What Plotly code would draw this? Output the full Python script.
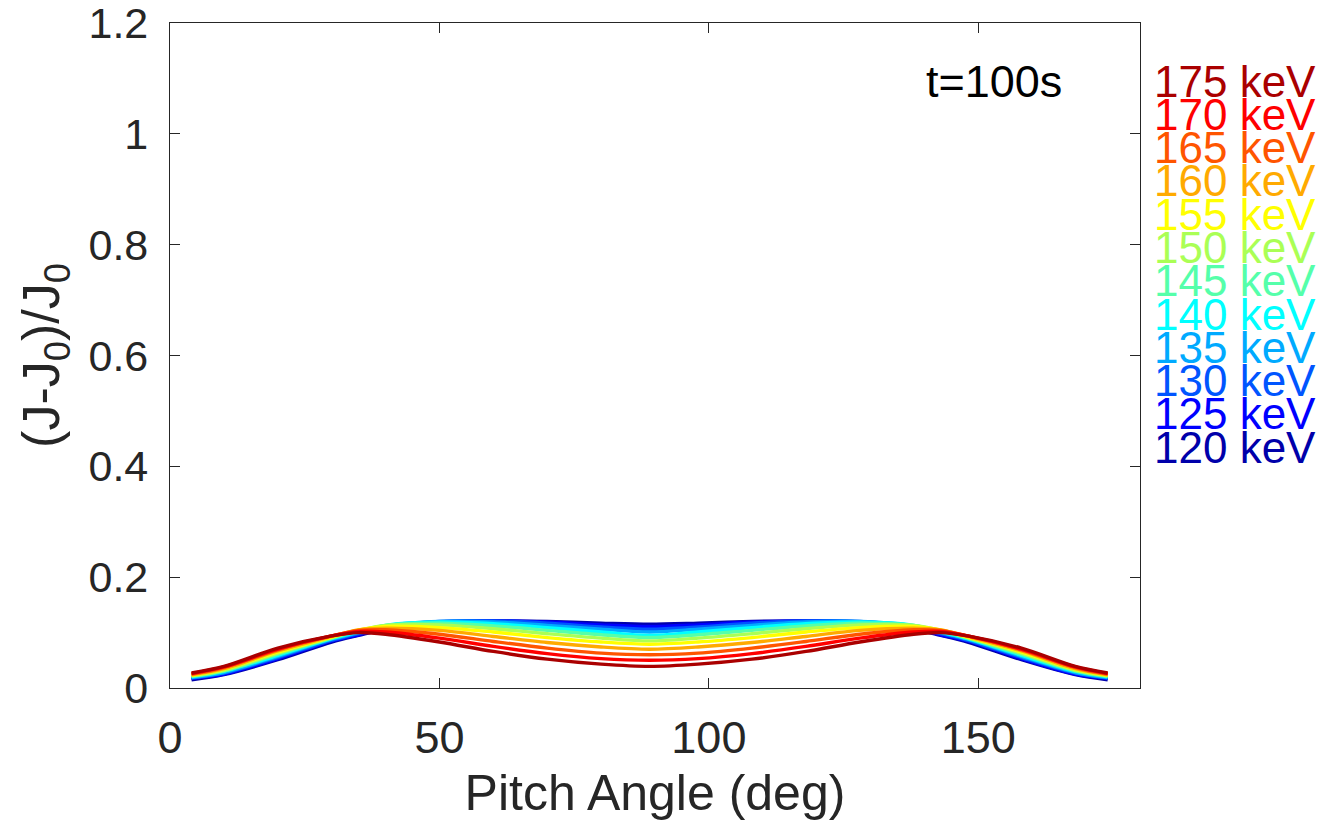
import plotly.graph_objects as go

# Pitch angle sample points (deg)
pitch = [4, 10, 20, 30, 35, 40, 50, 60, 70, 80, 89, 98, 108, 118, 128, 138, 143, 148, 158, 168, 174]

energies = ["120 keV", "125 keV", "130 keV", "135 keV", "140 keV", "145 keV",
            "150 keV", "155 keV", "160 keV", "165 keV", "170 keV", "175 keV"]

colors = ["#0000AA", "#0000FF", "#0055FF", "#00AAFF", "#00FFFF", "#55FFAA",
          "#AAFF55", "#FFFF00", "#FFAA00", "#FF5500", "#FF0000", "#AA0000"]

e120 = [0.015, 0.024, 0.051, 0.083, 0.095, 0.106, 0.118, 0.121, 0.120, 0.117, 0.115, 0.117, 0.120, 0.121, 0.118, 0.106, 0.095, 0.083, 0.051, 0.024, 0.015]
e125 = [0.017, 0.025, 0.053, 0.085, 0.096, 0.108, 0.119, 0.121, 0.119, 0.114, 0.111, 0.114, 0.119, 0.121, 0.119, 0.108, 0.096, 0.085, 0.053, 0.025, 0.017]
e130 = [0.018, 0.027, 0.055, 0.086, 0.098, 0.110, 0.120, 0.121, 0.117, 0.110, 0.106, 0.110, 0.117, 0.121, 0.120, 0.110, 0.098, 0.086, 0.055, 0.027, 0.018]
e135 = [0.019, 0.028, 0.057, 0.088, 0.100, 0.112, 0.120, 0.119, 0.113, 0.106, 0.101, 0.106, 0.113, 0.119, 0.120, 0.112, 0.100, 0.088, 0.057, 0.028, 0.019]
e140 = [0.020, 0.030, 0.059, 0.089, 0.101, 0.113, 0.119, 0.116, 0.109, 0.101, 0.095, 0.101, 0.109, 0.116, 0.119, 0.113, 0.101, 0.089, 0.059, 0.030, 0.020]
e145 = [0.021, 0.031, 0.061, 0.090, 0.103, 0.113, 0.117, 0.112, 0.104, 0.096, 0.091, 0.096, 0.104, 0.112, 0.117, 0.113, 0.103, 0.090, 0.061, 0.031, 0.021]
e150 = [0.022, 0.032, 0.063, 0.091, 0.104, 0.113, 0.114, 0.107, 0.098, 0.090, 0.085, 0.090, 0.098, 0.107, 0.114, 0.113, 0.104, 0.091, 0.063, 0.032, 0.022]
e155 = [0.023, 0.034, 0.065, 0.092, 0.105, 0.111, 0.109, 0.101, 0.091, 0.083, 0.079, 0.083, 0.091, 0.101, 0.109, 0.111, 0.105, 0.092, 0.065, 0.034, 0.023]
e160 = [0.024, 0.035, 0.067, 0.093, 0.105, 0.108, 0.104, 0.093, 0.082, 0.074, 0.070, 0.074, 0.082, 0.093, 0.104, 0.108, 0.105, 0.093, 0.067, 0.035, 0.024]
e165 = [0.025, 0.037, 0.069, 0.094, 0.104, 0.105, 0.097, 0.084, 0.072, 0.063, 0.060, 0.063, 0.072, 0.084, 0.097, 0.105, 0.104, 0.094, 0.069, 0.037, 0.025]
e170 = [0.026, 0.038, 0.070, 0.094, 0.102, 0.101, 0.090, 0.075, 0.062, 0.053, 0.050, 0.053, 0.062, 0.075, 0.090, 0.101, 0.102, 0.094, 0.070, 0.038, 0.026]
e175 = [0.027, 0.039, 0.072, 0.094, 0.100, 0.097, 0.083, 0.066, 0.052, 0.043, 0.039, 0.043, 0.052, 0.066, 0.083, 0.097, 0.100, 0.094, 0.072, 0.039, 0.027]

series = [e120, e125, e130, e135, e140, e145, e150, e155, e160, e165, e170, e175]

x_ticks = [0, 50, 100, 150]
y_ticks = [0, 0.2, 0.4, 0.6, 0.8, 1.0, 1.2]
y_ticktext = ["0", "0.2", "0.4", "0.6", "0.8", "1", "1.2"]

FONT = "Liberation Sans, Arial, Helvetica, sans-serif"
AX = "#262626"

fig = go.Figure()
for name, col, vals in zip(energies, colors, series):
    fig.add_trace(go.Scatter(
        x=pitch, y=vals, mode="lines", name=name,
        line=dict(color=col, width=3.4, shape="spline", smoothing=0.9),
        showlegend=False,
    ))

# legend as coloured text (MATLAB-style, no line symbols), top = highest energy
top_y = 1 - (81 - 23) / 665.0
step = 33.3 / 665.0
for i, (name, col) in enumerate(zip(energies[::-1], colors[::-1])):
    fig.add_annotation(
        xref="paper", yref="paper", x=1.0125, y=top_y - i * step,
        xanchor="left", yanchor="middle", text=name, showarrow=False,
        font=dict(family=FONT, size=44, color=col),
    )

fig.add_annotation(
    xref="paper", yref="paper", x=(924 - 170) / 970.0, y=1 - (81 - 23) / 665.0,
    xanchor="left", yanchor="middle", text="t=100s", showarrow=False,
    font=dict(family=FONT, size=45, color="#000000"),
)

axis_common = dict(
    showline=True, linecolor=AX, linewidth=1.3, mirror="ticks",
    ticks="inside", ticklen=10, tickwidth=1.3, tickcolor=AX,
    showgrid=False, zeroline=False, ticklabeloverflow="allow",
)

fig.update_xaxes(
    range=[0, 180], tickvals=x_ticks, ticktext=[str(v) for v in x_ticks],
    tickfont=dict(family=FONT, size=45, color=AX),
    title=dict(text="Pitch Angle (deg)", font=dict(family=FONT, size=50, color=AX), standoff=12),
    ticklabelstandoff=10,
    **axis_common,
)
fig.update_yaxes(
    range=[0, 1.2], tickvals=y_ticks, ticktext=y_ticktext,
    tickfont=dict(family=FONT, size=43, color=AX),
    title=dict(text="(J-J<sub>0</sub>)/J<sub>0</sub>", font=dict(family=FONT, size=52, color=AX), standoff=12),
    ticklabelstandoff=12,
    **axis_common,
)

fig.update_layout(
    width=1323, height=822,
    margin=dict(l=170, r=183, t=23, b=134, autoexpand=False),
    paper_bgcolor="white", plot_bgcolor="white",
    showlegend=False,
)

fig.write_html("out.html")
